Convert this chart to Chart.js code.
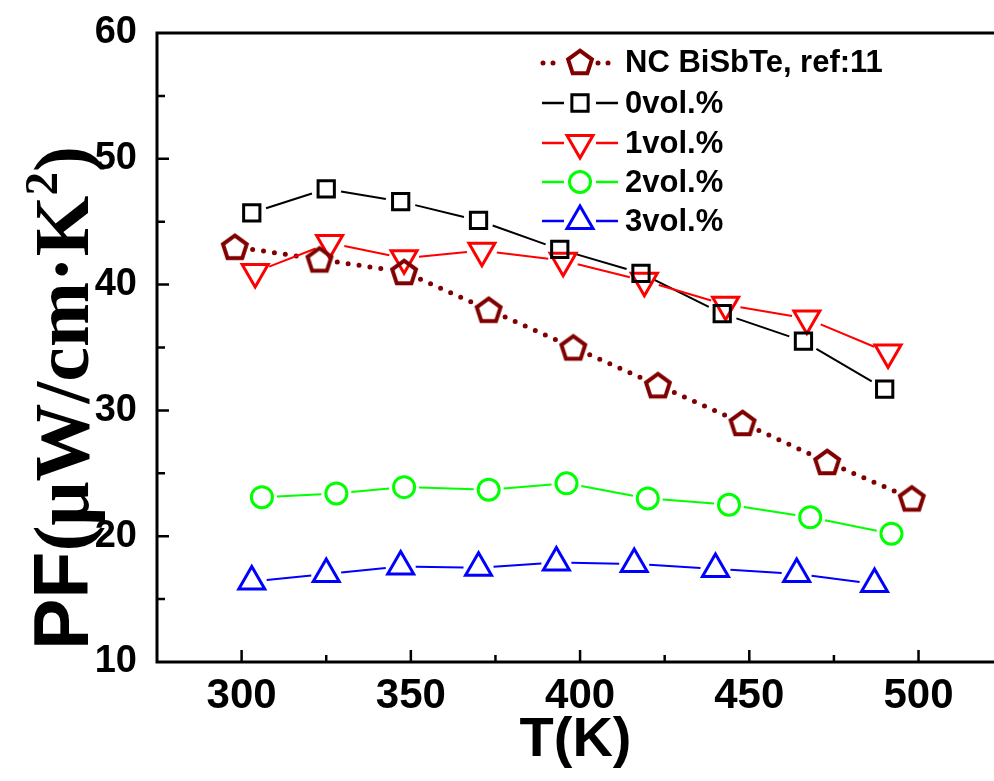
<!DOCTYPE html>
<html>
<head>
<meta charset="utf-8">
<script src="https://cdn.jsdelivr.net/npm/chart.js@4.4.1/dist/chart.umd.min.js"></script>
<style>
  html, body { margin: 0; padding: 0; background: #fff; }
  #wrap { width: 994px; height: 781px; }
</style>
</head>
<body>
<div id="wrap"><canvas id="pfChart" width="994" height="781"></canvas></div>
<script>
// PF vs temperature
const ncTemp = [298, 323, 348, 373, 398, 423, 448, 473, 498];
const ncPF = [43.0, 42.0, 41.0, 38.0, 35.0, 32.0, 29.0, 25.9, 23.0];
const vol0Temp = [303, 325, 347, 370, 394, 418, 442, 466, 490];
const vol0PF = [45.7, 47.6, 46.6, 45.1, 42.8, 40.9, 37.7, 35.5, 31.7];
const vol1Temp = [304, 326, 348, 371, 395, 419, 443, 467, 491];
const vol1PF = [41.0, 43.3, 42.1, 42.7, 41.9, 40.3, 38.4, 37.3, 34.6];
const vol2Temp = [306, 328, 348, 373, 396, 420, 444, 468, 492];
const vol2PF = [23.1, 23.4, 23.9, 23.7, 24.2, 23.0, 22.5, 21.5, 20.2];
const vol3Temp = [303, 325, 347, 370, 393, 416, 440, 464, 487];
const vol3PF = [16.4, 17.0, 17.6, 17.5, 17.9, 17.8, 17.4, 17.0, 16.2];

const seriesNames = ["NC BiSbTe, ref:11", "0vol.%", "1vol.%", "2vol.%", "3vol.%"];
const xTickLabels = [300, 350, 400, 450, 500];
const yTickLabels = [10, 20, 30, 40, 50, 60];

const SANS = "'Liberation Sans', Arial, sans-serif";
const SERIF = "'Liberation Serif', 'Times New Roman', serif";
Chart.defaults.font.family = SANS;
Chart.defaults.color = "#000";

// pentagon marker (no built-in style for it)
function makePentagon(color) {
    const c = document.createElement("canvas");
    c.width = 34; c.height = 34;
    const g = c.getContext("2d");
    g.strokeStyle = color;
    g.lineWidth = 4;
    g.lineJoin = "miter";
    g.beginPath();
    for (let i = 0; i < 5; i++) {
        const a = -Math.PI / 2 + i * 2 * Math.PI / 5;
        const px = 17 + 12.5 * Math.cos(a), py = 18.2 + 12.5 * Math.sin(a);
        i ? g.lineTo(px, py) : g.moveTo(px, py);
    }
    g.closePath();
    g.stroke();
    return c;
}
const pentagon = makePentagon("#800000");

function toPoints(xs, ys) {
    return xs.map((x, i) => ({ x, y: ys[i] }));
}

// lines are drawn by the plugin below (with gaps at the markers, like Origin)
function series(label, xs, ys, color, style, extra) {
    return Object.assign({
        label,
        data: toPoints(xs, ys),
        showLine: false,
        borderColor: color,
        backgroundColor: "rgba(0,0,0,0)",
        lineWidth: 2,
        lineDash: [],
        gap: 15,
        pointStyle: style,
        pointRadius: 10.5,
        pointBorderWidth: 3,
        pointBorderColor: color,
        pointBackgroundColor: "rgba(0,0,0,0)"
    }, extra || {});
}

const datasets = [
    series(seriesNames[0], ncTemp, ncPF, "#800000", pentagon,
        { lineWidth: 5, lineDash: [0, 11], gap: 18, pointRadius: 13 }),
    series(seriesNames[1], vol0Temp, vol0PF, "#000000", "rect", { pointRadius: 11.5 }),
    series(seriesNames[2], vol1Temp, vol1PF, "#ff0000", "triangle",
        { pointRadius: 15, pointRotation: 180 }),
    series(seriesNames[3], vol2Temp, vol2PF, "#00ff00", "circle"),
    series(seriesNames[4], vol3Temp, vol3PF, "#0000ff", "triangle", { pointRadius: 15 })
];

const gappedLines = {
    id: "gappedLines",
    beforeDatasetsDraw(chart) {
        const ctx = chart.ctx;
        ctx.save();
        chart.data.datasets.forEach((ds, i) => {
            const pts = chart.getDatasetMeta(i).data;
            ctx.strokeStyle = ds.borderColor;
            ctx.lineWidth = ds.lineWidth;
            ctx.setLineDash(ds.lineDash);
            ctx.lineCap = ds.lineDash.length ? "round" : "butt";
            ctx.beginPath();
            for (let k = 0; k < pts.length - 1; k++) {
                const p0 = pts[k], p1 = pts[k + 1];
                const dx = p1.x - p0.x, dy = p1.y - p0.y;
                const len = Math.hypot(dx, dy);
                if (len <= 2 * ds.gap) continue;
                const ux = dx / len, uy = dy / len;
                ctx.moveTo(p0.x + ux * ds.gap, p0.y + uy * ds.gap);
                ctx.lineTo(p1.x - ux * ds.gap, p1.y - uy * ds.gap);
            }
            ctx.stroke();
        });
        ctx.restore();
    }
};

// frame, inward ticks, legend and y title
const decorations = {
    id: "decorations",
    afterDraw(chart) {
        const ctx = chart.ctx;
        const a = chart.chartArea;
        const xs = chart.scales.x, ys = chart.scales.y;
        ctx.save();
        ctx.strokeStyle = "#000";
        ctx.lineCap = "butt";

        ctx.lineWidth = 3;
        ctx.beginPath();
        ctx.moveTo(a.left, a.top); ctx.lineTo(a.right, a.top);
        ctx.moveTo(a.left, a.top - 1.5); ctx.lineTo(a.left, a.bottom);
        ctx.lineTo(a.right, a.bottom);
        ctx.stroke();

        ctx.lineWidth = 2.5;
        ctx.beginPath();
        xTickLabels.forEach((v, i) => {
            const px = xs.getPixelForValue(v);
            ctx.moveTo(px, a.bottom); ctx.lineTo(px, a.bottom - 12);
            if (i < xTickLabels.length - 1) {
                const mx = xs.getPixelForValue(v + 25);
                ctx.moveTo(mx, a.bottom); ctx.lineTo(mx, a.bottom - 7);
            }
        });
        yTickLabels.forEach((v, i) => {
            const py = ys.getPixelForValue(v);
            if (i > 0 && i < yTickLabels.length - 1) {
                ctx.moveTo(a.left, py); ctx.lineTo(a.left + 12, py);
            }
            if (i < yTickLabels.length - 1) {
                const my = ys.getPixelForValue(v + 5);
                ctx.moveTo(a.left, my); ctx.lineTo(a.left + 8, my);
            }
        });
        ctx.stroke();

        // legend
        const rowY = [62, 103, 143, 182, 221];
        chart.data.datasets.forEach((ds, i) => {
            const y = rowY[i];
            ctx.save();
            ctx.strokeStyle = ds.borderColor;
            if (i === 0) {
                ctx.fillStyle = ds.borderColor;
                [543, 553, 598, 608].forEach(dx => {
                    ctx.beginPath(); ctx.arc(dx, y + 1, 2.5, 0, Math.PI * 2); ctx.fill();
                });
            } else {
                ctx.lineWidth = 2.5;
                ctx.beginPath();
                ctx.moveTo(542, y); ctx.lineTo(564, y);
                ctx.moveTo(596, y); ctx.lineTo(618, y);
                ctx.stroke();
            }
            ctx.lineWidth = ds.pointBorderWidth;
            ctx.fillStyle = "rgba(0,0,0,0)";
            Chart.helpers.drawPoint(ctx, {
                pointStyle: ds.pointStyle,
                rotation: ds.pointRotation || 0,
                radius: ds.pointRadius,
                borderWidth: ds.pointBorderWidth
            }, 580, y);
            ctx.restore();
            ctx.fillStyle = "#000";
            ctx.font = "bold 31px " + SANS;
            ctx.textBaseline = "middle";
            ctx.textAlign = "left";
            ctx.fillText(ds.label, 625, y + 1);
        });

        // y axis title, mixed fonts
        ctx.translate(88, 650);
        ctx.rotate(-Math.PI / 2);
        ctx.textBaseline = "alphabetic";
        ctx.textAlign = "left";
        let x = 0;
        const part = (t, font, dy) => {
            ctx.font = font;
            ctx.fillText(t, x, dy || 0);
            x += ctx.measureText(t).width;
        };
        part("PF", "bold 77px " + SANS);
        part("(\u03bcW/cm\u00b7K", "bold 78px " + SERIF);
        part("2", "bold 47px " + SERIF, -31);
        part(")", "bold 78px " + SERIF);
        ctx.restore();
    }
};

new Chart(document.getElementById("pfChart"), {
    type: "line",
    data: { datasets },
    options: {
        responsive: false,
        animation: false,
        layout: { autoPadding: false, padding: { top: 33, left: 0, right: 0, bottom: 0 } },
        plugins: {
            legend: { display: false },
            tooltip: { enabled: false }
        },
        scales: {
            x: {
                type: "linear",
                min: 275,
                max: 522.3,
                grid: { display: false, drawTicks: false },
                border: { display: false },
                afterBuildTicks: (s) => { s.ticks = xTickLabels.map(v => ({ value: v })); },
                afterFit: (s) => {
                    s.height = 119;
                    s.paddingLeft = 0; s.paddingRight = 0;
                },
                ticks: {
                    padding: 9,
                    maxRotation: 0,
                    font: { size: 42, weight: "bold" }
                },
                title: {
                    display: true,
                    text: "T(K)",
                    padding: { top: 0, bottom: 7 },
                    font: { size: 56, weight: "bold" }
                }
            },
            y: {
                min: 10,
                max: 60,
                grid: { display: false, drawTicks: false },
                border: { display: false },
                afterBuildTicks: (s) => { s.ticks = yTickLabels.map(v => ({ value: v })); },
                afterFit: (s) => {
                    s.width = 157;
                    s.paddingTop = 0; s.paddingBottom = 0;
                },
                ticks: {
                    padding: 20,
                    font: { size: 38, weight: "bold" }
                }
            }
        }
    },
    plugins: [gappedLines, decorations]
});
</script>
</body>
</html>
